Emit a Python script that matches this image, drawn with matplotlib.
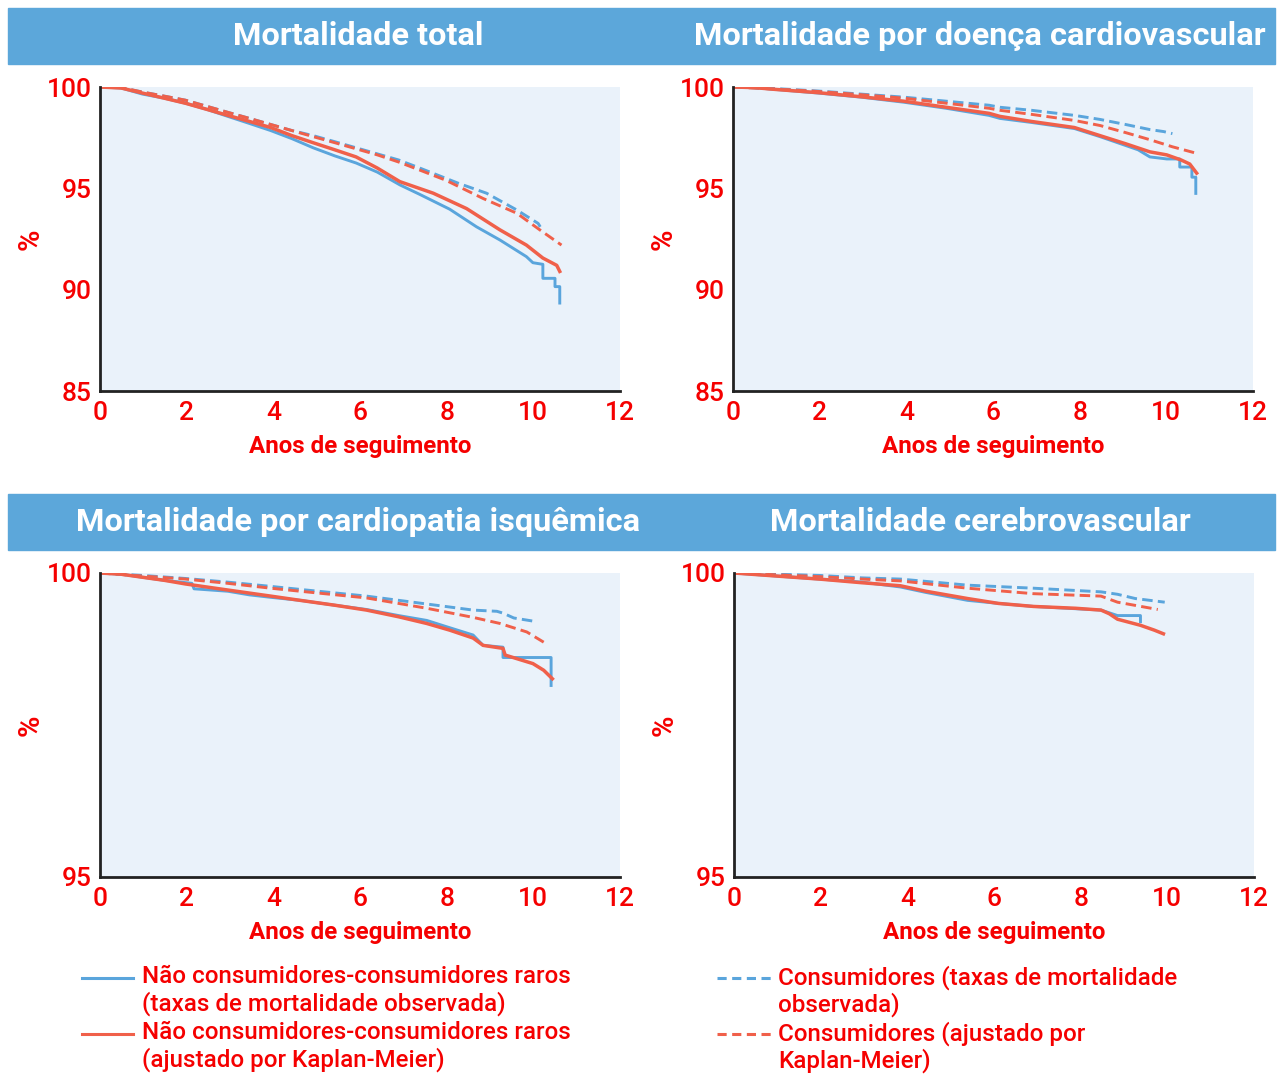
import matplotlib
matplotlib.use('Agg')
import matplotlib.pyplot as plt
from matplotlib.patches import Rectangle
from matplotlib.lines import Line2D

plt.rcParams['font.family'] = ['Roboto', 'DejaVu Sans']

# Panel titles
titles = ['Mortalidade total', 'Mortalidade por doença cardiovascular',
          'Mortalidade por cardiopatia isquêmica', 'Mortalidade cerebrovascular']

# Panel 1 - Mortalidade total (t em anos, sobrevida em %)
p1_blue_t = [0, 0.49, 0.98, 1.48, 1.97, 2.46, 2.95, 3.45, 3.94, 4.43, 4.92, 5.42, 5.91, 6.4, 6.92, 7.38,
             8.07, 8.69, 9.23, 9.84, 9.99, 10.22, 10.22, 10.5, 10.5, 10.61, 10.61]
p1_blue_s = [100, 99.95, 99.65, 99.45, 99.2, 98.9, 98.55, 98.2, 97.85, 97.45, 97.0, 96.6, 96.25, 95.8, 95.17,
             94.7, 93.97, 93.1, 92.45, 91.63, 91.33, 91.25, 90.56, 90.56, 90.15, 90.15, 89.34]
p1_red_t = [0, 0.49, 0.98, 1.48, 1.97, 2.46, 2.95, 3.45, 3.94, 4.43, 4.92, 5.42, 5.91, 6.4, 6.92, 7.69,
            8.46, 9.23, 9.84, 10.22, 10.54, 10.61]
p1_red_s = [100, 99.95, 99.7, 99.45, 99.2, 98.9, 98.6, 98.3, 98.0, 97.6, 97.25, 96.9, 96.55, 96.0, 95.33,
            94.76, 94.0, 92.95, 92.2, 91.56, 91.2, 90.9]
p1_bdash_t = [0, 0.49, 0.98, 1.48, 1.97, 2.46, 2.95, 3.45, 3.94, 4.43, 4.92, 5.42, 5.91, 6.4, 6.89, 7.38,
              8.27, 8.92, 9.62, 10.11, 10.16]
p1_bdash_s = [100, 99.97, 99.75, 99.55, 99.35, 99.05, 98.75, 98.45, 98.15, 97.85, 97.6, 97.3, 97.0, 96.7,
              96.4, 96.0, 95.25, 94.76, 93.93, 93.27, 93.1]
p1_rdash_t = [0, 0.49, 0.98, 1.48, 1.97, 2.46, 2.95, 3.45, 3.94, 4.43, 4.92, 5.42, 5.91, 6.4, 6.89, 7.38,
              7.98, 8.84, 9.62, 10.15, 10.65]
p1_rdash_s = [100, 99.97, 99.75, 99.55, 99.35, 99.05, 98.75, 98.45, 98.15, 97.85, 97.55, 97.25, 96.95,
              96.65, 96.3, 95.9, 95.4, 94.5, 93.77, 92.95, 92.2]

# Panel 2 - Doença cardiovascular
p2_blue_t = [0, 0.49, 0.98, 1.97, 2.95, 3.94, 4.92, 5.91, 6.16, 6.89, 7.88, 8.47, 8.81, 9.35, 9.62, 10.01,
             10.31, 10.31, 10.59, 10.59, 10.68, 10.68]
p2_blue_s = [100, 99.97, 99.88, 99.7, 99.5, 99.25, 98.95, 98.6, 98.45, 98.25, 97.95, 97.55, 97.3, 96.9,
             96.55, 96.45, 96.45, 96.05, 96.05, 95.55, 95.55, 94.75]
p2_red_t = [0, 0.49, 0.98, 1.97, 2.95, 3.94, 4.92, 5.91, 6.16, 6.89, 7.88, 8.47, 9.06, 9.62, 10.01, 10.34,
            10.54, 10.7]
p2_red_s = [100, 99.97, 99.88, 99.72, 99.52, 99.3, 99.0, 98.7, 98.55, 98.3, 98.0, 97.6, 97.2, 96.8,
            96.65, 96.4, 96.2, 95.75]
p2_bdash_t = [0, 0.98, 1.97, 2.95, 3.94, 4.92, 5.91, 6.16, 6.89, 7.88, 8.47, 9.06, 9.62, 9.94, 10.14]
p2_bdash_s = [100, 99.92, 99.8, 99.65, 99.5, 99.3, 99.1, 99.0, 98.85, 98.6, 98.4, 98.15, 97.9, 97.8, 97.7]
p2_rdash_t = [0, 0.98, 1.97, 2.95, 3.94, 4.92, 5.91, 6.16, 6.89, 7.88, 8.47, 9.06, 9.62, 10.14, 10.66]
p2_rdash_s = [100, 99.9, 99.78, 99.62, 99.45, 99.2, 98.95, 98.85, 98.65, 98.35, 98.1, 97.75, 97.4,
              97.05, 96.75]

# Panel 3 - Cardiopatia isquêmica
p3_blue_t = [0, 0.49, 0.98, 1.48, 2.12, 2.17, 2.95, 3.45, 3.94, 4.62, 5.42, 6.15, 6.89, 7.54, 8.07, 8.61,
             8.84, 9.3, 9.3, 10.41, 10.41]
p3_blue_s = [100, 99.98, 99.93, 99.88, 99.83, 99.74, 99.7, 99.64, 99.6, 99.55, 99.47, 99.4, 99.3, 99.22,
             99.1, 98.98, 98.81, 98.78, 98.61, 98.61, 98.15]
p3_red_t = [0, 0.49, 0.98, 1.48, 1.97, 2.95, 3.94, 4.62, 5.42, 6.15, 6.89, 7.54, 8.07, 8.61, 8.84, 9.3,
            9.35, 9.99, 10.24, 10.44]
p3_red_s = [100, 99.98, 99.93, 99.88, 99.82, 99.72, 99.62, 99.55, 99.47, 99.39, 99.28, 99.17, 99.06,
            98.93, 98.81, 98.76, 98.65, 98.51, 98.4, 98.26]
p3_bdash_t = [0, 0.98, 1.97, 2.95, 3.94, 4.62, 6.15, 7.54, 8.61, 9.16, 9.3, 9.55, 10.07]
p3_bdash_s = [100, 99.96, 99.91, 99.85, 99.78, 99.73, 99.62, 99.49, 99.39, 99.37, 99.34, 99.26, 99.2]
p3_rdash_t = [0, 0.98, 1.97, 2.95, 3.94, 4.62, 6.15, 7.54, 8.61, 9.23, 9.85, 10.29]
p3_rdash_s = [100, 99.95, 99.9, 99.83, 99.75, 99.7, 99.59, 99.42, 99.27, 99.17, 99.03, 98.84]

# Panel 4 - Cerebrovascular
p4_blue_t = [0, 0.98, 1.97, 2.95, 3.84, 4.43, 5.39, 6.1, 6.91, 8.47, 8.85, 9.38, 9.38]
p4_blue_s = [100, 99.95, 99.9, 99.85, 99.77, 99.68, 99.55, 99.5, 99.45, 99.39, 99.3, 99.3, 99.2]
p4_red_t = [0, 0.98, 1.97, 2.95, 3.84, 4.43, 5.39, 6.1, 6.91, 7.88, 8.47, 8.66, 8.85, 9.38, 9.7, 9.91]
p4_red_s = [100, 99.95, 99.9, 99.84, 99.79, 99.7, 99.58, 99.5, 99.45, 99.42, 99.39, 99.33, 99.24, 99.14,
            99.06, 99.0]
p4_bdash_t = [0, 0.98, 1.97, 2.95, 3.84, 5.39, 6.91, 8.47, 8.85, 9.26, 9.94]
p4_bdash_s = [100, 99.98, 99.96, 99.92, 99.9, 99.8, 99.75, 99.69, 99.65, 99.58, 99.52]
p4_rdash_t = [0, 0.98, 1.97, 2.95, 3.84, 5.39, 6.91, 8.47, 8.85, 9.78]
p4_rdash_s = [100, 99.97, 99.94, 99.9, 99.87, 99.75, 99.66, 99.62, 99.52, 99.4]

y_ticks_top = [85, 90, 95, 100]
y_ticks_bottom = [95, 100]
x_ticks = [0, 2, 4, 6, 8, 10, 12]

legend_labels = ['Não consumidores-consumidores raros\n(taxas de mortalidade observada)',
                 'Não consumidores-consumidores raros\n(ajustado por Kaplan-Meier)',
                 'Consumidores (taxas de mortalidade\nobservada)',
                 'Consumidores (ajustado por\nKaplan-Meier)']

BLUE = '#5aa5dc'
RED = '#f0604a'
TXT = '#f50000'
HEAD = '#5ca7da'
FACE = '#eaf2fa'
DASH = (3.6, 1.8)

W, H = 1279, 1075
fig = plt.figure(figsize=(W / 100, H / 100), dpi=100)

# header bars
for top in [8, 494]:
    fig.add_artist(Rectangle((8 / W, 1 - (top + 56) / H), 1267 / W, 56 / H,
                             transform=fig.transFigure, color=HEAD, zorder=0))

panels = [
    (p1_blue_t, p1_blue_s, p1_red_t, p1_red_s, p1_bdash_t, p1_bdash_s, p1_rdash_t, p1_rdash_s),
    (p2_blue_t, p2_blue_s, p2_red_t, p2_red_s, p2_bdash_t, p2_bdash_s, p2_rdash_t, p2_rdash_s),
    (p3_blue_t, p3_blue_s, p3_red_t, p3_red_s, p3_bdash_t, p3_bdash_s, p3_rdash_t, p3_rdash_s),
    (p4_blue_t, p4_blue_s, p4_red_t, p4_red_s, p4_bdash_t, p4_bdash_s, p4_rdash_t, p4_rdash_s),
]
lefts = [100, 733, 100, 734]
tops = [87, 87, 573, 573]
title_x = [358, 980, 358, 980]
title_y = [36, 36, 522, 522]
ax_w, ax_h = 520, 304

for i, data in enumerate(panels):
    ax = fig.add_axes([lefts[i] / W, 1 - (tops[i] + ax_h) / H, ax_w / W, ax_h / H])
    ax.set_facecolor(FACE)
    bt, bs, rt, rs, bdt, bds, rdt, rds = data
    ax.plot(bdt, bds, color=BLUE, lw=2.1, dashes=DASH)
    ax.plot(rdt, rds, color=RED, lw=2.1, dashes=DASH)
    ax.plot(bt, bs, color=BLUE, lw=2.1)
    ax.plot(rt, rs, color=RED, lw=2.5)
    ax.set_xlim(0, 12)
    if i < 2:
        ax.set_ylim(85, 100)
        ax.set_yticks(y_ticks_top)
    else:
        ax.set_ylim(95, 100)
        ax.set_yticks(y_ticks_bottom)
    ax.set_xticks(x_ticks)
    ax.tick_params(length=0, labelsize=19, colors=TXT, pad=7)
    ax.tick_params(axis='y', pad=6)
    for lab in ax.get_xticklabels() + ax.get_yticklabels():
        lab.set_fontweight('medium')
    for side in ['top', 'right']:
        ax.spines[side].set_visible(False)
    for side in ['left', 'bottom']:
        ax.spines[side].set_linewidth(2)
        ax.spines[side].set_color('#222222')
    ax.set_ylabel('%', color=TXT, fontsize=21, fontweight='bold')
    ax.yaxis.set_label_coords(-55 / ax_w, 0.5)
    ax.set_xlabel('Anos de seguimento', color=TXT, fontsize=17.4, fontweight='bold')
    ax.xaxis.set_label_coords(0.5, -44 / ax_h)
    fig.text(title_x[i] / W, 1 - title_y[i] / H, titles[i], color='white', fontsize=23.4,
             fontweight='bold', ha='center', va='center')

# legend
leg_x = [82, 82, 717, 717]
leg_len = [51, 51, 54, 54]
leg_txt_x = [142, 142, 778, 778]
leg_y = [978, 1034, 978, 1034]
leg_col = [BLUE, RED, BLUE, RED]
leg_dash = [False, False, True, True]
for i in range(4):
    y = 1 - leg_y[i] / H
    ln = Line2D([leg_x[i] / W, (leg_x[i] + leg_len[i]) / W], [y, y], transform=fig.transFigure,
                color=leg_col[i], lw=2.2)
    if leg_dash[i]:
        ln.set_dashes((3.0, 1.8))
    fig.add_artist(ln)
    fig.text(leg_txt_x[i] / W, y + 13 / H, legend_labels[i], color=TXT, fontsize=17.4, ha='left', va='top',
             linespacing=1.15, fontweight='medium')

fig.savefig('out.png', dpi=100)
